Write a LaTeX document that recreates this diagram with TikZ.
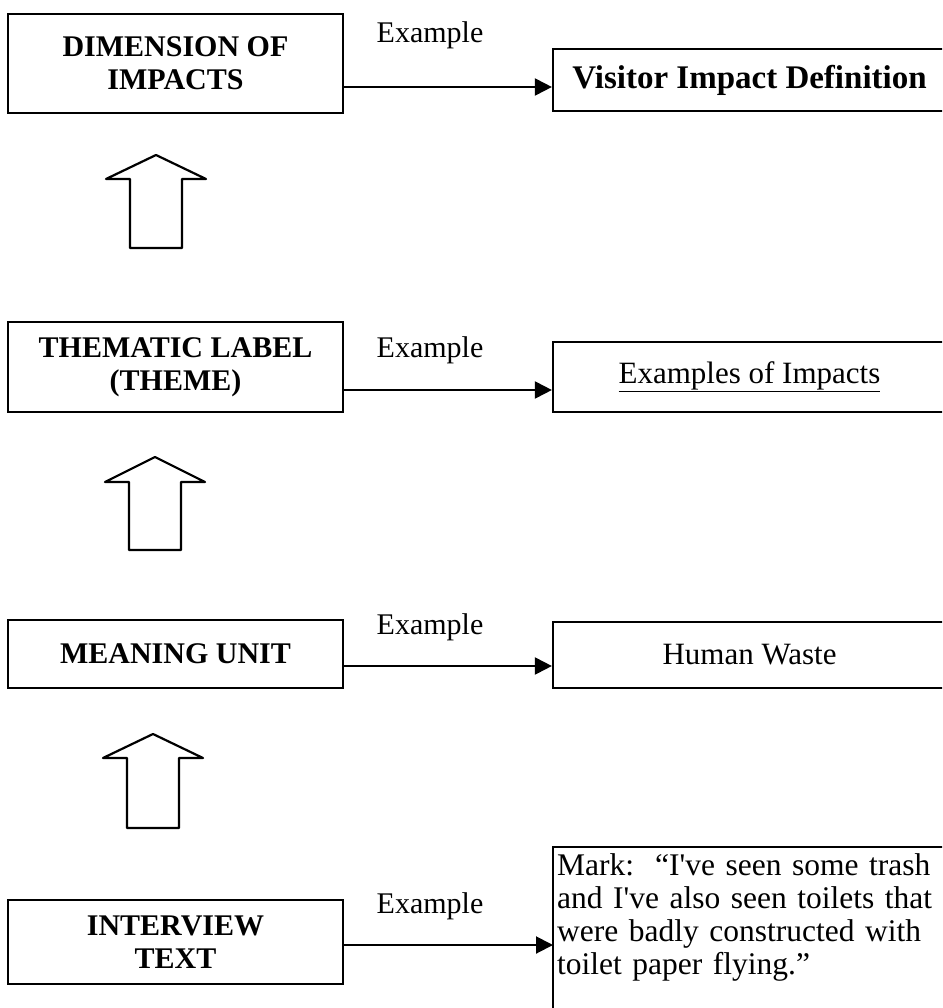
\documentclass[tikz,border=0pt]{standalone}
\usepackage{fontspec}
\setmainfont{Liberation Serif}
\usetikzlibrary{arrows.meta}

\begin{document}
\begin{tikzpicture}[x=1pt,y=-1pt,
    level/.style={draw,line width=2.2pt,minimum width=335pt,align=center,
        font=\fontsize{30}{33}\selectfont\bfseries},
    sample/.style={draw,line width=2.2pt,minimum width=393pt,align=center,
        font=\fontsize{31}{33}\selectfont},
    link/.style={line width=2pt,-{Triangle[length=17pt,width=17pt]}},
    tag/.style={font=\fontsize{30}{33}\selectfont}]
    \useasboundingbox (0,0) rectangle (942,1008);
    \clip (0,0) rectangle (942,1008);

    % levels of the analysis
    \node [level,minimum height=99pt] (dim)   at (175.5,63.5) {DIMENSION OF\\IMPACTS};
    \node [level,minimum height=90pt] (theme) at (175.5,367)  {THEMATIC LABEL\\(THEME)};
    \node [level,minimum height=68pt] (unit)  at (175.5,654)  {MEANING UNIT};
    \node [level,minimum height=84pt] (intv)  at (175.5,942)  {INTERVIEW\\TEXT};

    % examples
    \node [sample,minimum height=62pt,font=\fontsize{33}{33}\selectfont\bfseries] (vid) at (749.5,80) {Visitor Impact Definition};
    \node [sample,minimum height=70pt] (imp)   at (749.5,377) {\underline{Examples of Impacts}};
    \node [sample,minimum height=66pt] (waste) at (749.5,655) {Human Waste};
    \node [anchor=north west,align=left,text width=385pt,inner xsep=4pt,inner ysep=6pt,
        font=\fontsize{31.5}{33}\selectfont] (quote) at (553,847)
        {Mark:\ \ “I\textquotesingle ve seen some trash\\and I\textquotesingle ve also seen toilets that\\were badly constructed with\\toilet paper flying.”};
    \draw [line width=2.2pt] (quote.north west) rectangle ([yshift=-200pt]quote.north east);

    \foreach \a/\b/\y/\ly in {dim/vid/87/35, theme/imp/390/350, unit/waste/666/627, intv/quote/945/906}{%
        \draw [link] (\a.east |- 0,\y) -- (\b.west |- 0,\y);
        \node [tag] (ex\a) at (430,\ly) {Example};
    }

    % block arrows going up
    \foreach \cx/\ty/\by/\bot in {156/155/179/248, 155/457/482/550, 153/734/758/828}{%
        \draw [line width=2.2pt,line join=round] (\cx,\ty) -- (\cx+50,\by) -- (\cx+26,\by) -- (\cx+26,\bot)
            -- (\cx-26,\bot) -- (\cx-26,\by) -- (\cx-50,\by) -- cycle;
    }
\end{tikzpicture}
\end{document}
